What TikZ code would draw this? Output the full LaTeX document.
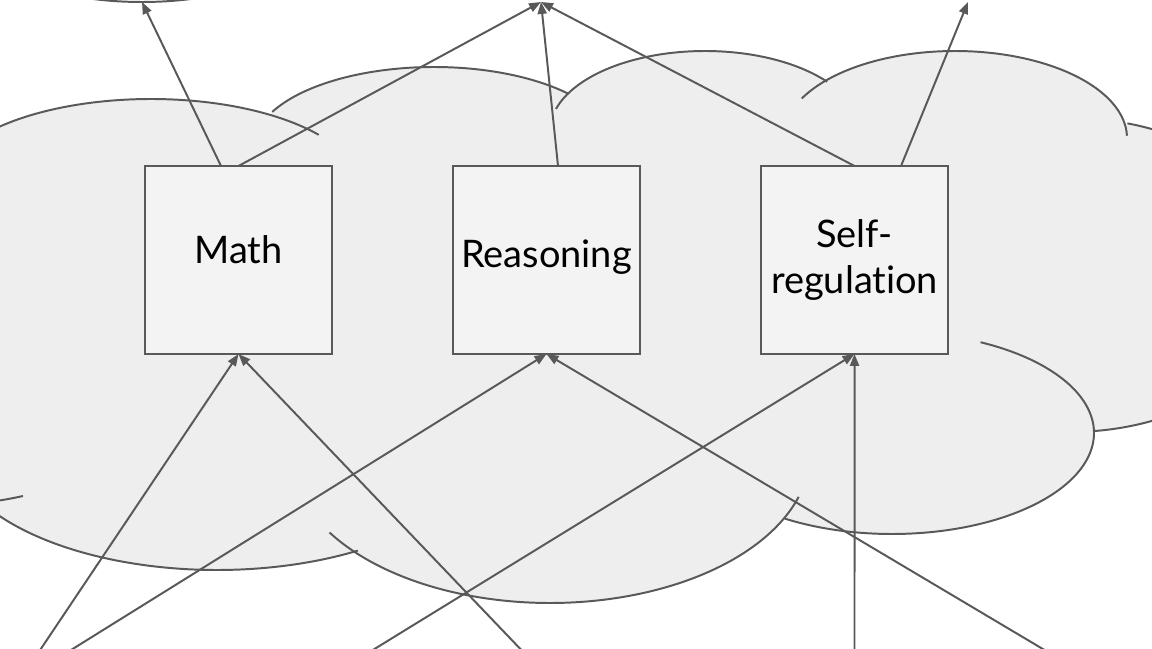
\documentclass[tikz,border=0pt]{standalone}
\usepackage{fontspec}
\setmainfont{Lato}[Ligatures=NoCommon]
\usepackage{tikz}
\usetikzlibrary{shapes,arrows.meta,positioning,calc}
\definecolor{linegray}{RGB}{89,89,89}
\definecolor{cloudgray}{RGB}{238,238,238}
\definecolor{boxgray}{RGB}{243,243,243}

\tikzset{
  skillbox/.style={rectangle,draw=linegray,line width=1.4pt,fill=boxgray,minimum width=46.75mm,minimum height=47mm,inner sep=2pt,outer sep=0pt,align=center,font=\fontsize{27}{32.5}\selectfont},
  link/.style={draw=linegray,line width=1.4pt,-{Triangle[length=8.5pt,width=6.5pt]}},
  lobe/.style={draw=linegray,line width=1.4pt}
}

% cloud lobes: centre x / centre y / x radius / y radius / first angle / last angle
\def\cloudlobes{151/189/210/90/37/155, 434/147/180/80/42/154, 705/131/155/80/38/164, 955/138/172/87/1.5/153, 1070/275/222/157/-84/75, 892/433/202/101/-122/64, 550/453/260/150/-148/-17, 217/440/268/130/-160/-58.3, -60/405/200/100/-100/-65.5}

\begin{document}
\begin{tikzpicture}[x=0.25mm,y=-0.25mm]
  \useasboundingbox (0,0) rectangle (1152,649);
  \fill[white] (0,0) rectangle (1152,649);
  \clip (0,0) rectangle (1152,649);

  % cloud
  \fill[cloudgray] (-100,130) -- (1120,130) -- (1100,430) -- (800,500) -- (350,540) -- (-100,500) -- cycle;
  \foreach \cx/\cy/\rx/\ry/\ta/\tb in \cloudlobes
    \fill[cloudgray] plot[domain=0:360,samples=90] ({\cx+\rx*cos(\x)},{\cy-\ry*sin(\x)}) -- cycle;
  \foreach \cx/\cy/\rx/\ry/\ta/\tb in \cloudlobes
    \draw[lobe] plot[domain=\ta:\tb,samples=60,smooth] ({\cx+\rx*cos(\x)},{\cy-\ry*sin(\x)});

  % skills
  \node[skillbox,text height=20pt,text depth=15.7pt] (math) at (238.5,260) {Math};
  \node[skillbox,text height=20pt,text depth=8.7pt,right=30.25mm of math] (reason) {Reasoning};
  \node[skillbox,right=30.25mm of reason] (selfreg) {Self-\\regulation};

  % ends outside the picture
  \node[ellipse,draw=linegray,line width=1.4pt,fill=white,outer sep=0pt,minimum width=57.5mm,minimum height=16mm] (outA) at (142,-30) {};
  \coordinate (outB) at (541,2);
  \coordinate (outC) at (968,2);
  \coordinate (inA) at (18,683);
  \coordinate (inB) at (324,680);
  \coordinate (inC) at (550,680);
  \coordinate (inD) at (854.5,680);
  \coordinate (inE) at (1095,680);

  % links
  \draw[link] ($(math.north)+(-17.5,0)$) -- (outA.south);
  \draw[link] (math.north) -- (outB);
  \draw[link] ($(reason.north)+(11.5,0)$) -- (outB);
  \draw[link] (selfreg.north) -- (outB);
  \draw[link] ($(selfreg.north)+(46.5,0)$) -- (outC);
  \draw[link] (inA) -- (math.south);
  \draw[link] (inA) -- (reason.south);
  \draw[link] (inB) -- (selfreg.south);
  \draw[link] (inC) -- (math.south);
  \draw[link] (inD) -- (selfreg.south);
  \draw[link] (inE) -- (reason.south);
\end{tikzpicture}
\end{document}
